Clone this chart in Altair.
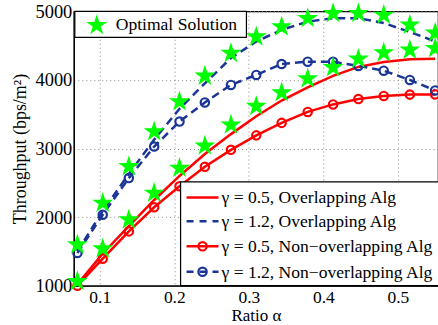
import altair as alt
import pandas as pd

alpha = [0.070, 0.104, 0.139, 0.173, 0.207, 0.241, 0.276, 0.310, 0.344, 0.379, 0.413, 0.447, 0.481, 0.516, 0.550]
opt_g05 = [1064, 1540, 1962, 2351, 2715, 3039, 3345, 3617, 3815, 4017, 4182, 4306, 4396, 4437, 4461]
opt_g12 = [1598, 2205, 2738, 3247, 3684, 4058, 4389, 4630, 4776, 4898, 4971, 4971, 4946, 4801, 4684]
ovl_g05 = [1020, 1470, 1870, 2250, 2600, 2920, 3210, 3470, 3700, 3890, 4060, 4190, 4260, 4300, 4310]
ovl_g12 = [1500, 2090, 2630, 3130, 3580, 3950, 4320, 4560, 4730, 4850, 4900, 4900, 4830, 4700, 4560]
non_g05 = [1000, 1394, 1792, 2144, 2450, 2734, 2981, 3192, 3374, 3534, 3643, 3721, 3767, 3786, 3789]
non_g12 = [1477, 2035, 2569, 3029, 3393, 3672, 3927, 4073, 4233, 4266, 4266, 4204, 4135, 4000, 3847]

legend_labels = ["γ = 0.5, Overlapping Alg", "γ = 1.2, Overlapping Alg",
                 "γ = 0.5, Non−overlapping Alg", "γ = 1.2, Non−overlapping Alg"]
x_ticks = [0.1, 0.2, 0.3, 0.4, 0.5]
y_ticks = [1000, 2000, 3000, 4000, 5000]

FONT = "Liberation Serif"
RED = "#ff0000"
BLUE = "#1a3596"
GREEN = "#00ff00"
STAR = ("M0,-1L0.2245,-0.309L0.9511,-0.309L0.3633,0.118L0.5878,0.809L0,0.382"
        "L-0.5878,0.809L-0.3633,0.118L-0.9511,-0.309L-0.2245,-0.309Z")
STAR_SIZE = 490
LEG_FS = 17.6

def frame(vals):
    return pd.DataFrame({"alpha": alpha, "v": vals})

xs = alt.Scale(domain=[0.0652, 0.5538], nice=False, zero=False)
ys = alt.Scale(domain=[1000, 5000], nice=False, zero=False)

X = alt.X("alpha:Q", scale=xs,
          axis=alt.Axis(values=x_ticks, title="Ratio α", format=".1f",
                        labelFontSize=17.5, labelPadding=3,
                        titleFontSize=17, titleY=35, titleBaseline="alphabetic"))
Y = alt.Y("v:Q", scale=ys,
          axis=alt.Axis(values=y_ticks, title="Throughput (bps/m²)", format="d",
                        labelPadding=2, titlePadding=5))

def line(vals, color, dash=None):
    kw = dict(color=color, strokeWidth=2.5)
    if dash:
        kw["strokeDash"] = dash
    return alt.Chart(frame(vals)).mark_line(**kw).encode(x=X, y=Y)

def circles(vals, color):
    return alt.Chart(frame(vals)).mark_point(shape="circle", filled=False, color=color,
                                             strokeWidth=2.2, size=70, opacity=1).encode(x=X, y=Y)

def stars(vals):
    return alt.Chart(frame(vals)).mark_point(shape=STAR, filled=True, color=GREEN,
                                             size=STAR_SIZE, opacity=1).encode(x=X, y=Y)

layers = [
    line(ovl_g05, RED),
    line(ovl_g12, BLUE, [8, 5]),
    line(non_g05, RED),
    line(non_g12, BLUE, [8, 5]),
    circles(non_g05, RED),
    circles(non_g12, BLUE),
    stars(opt_g05),
    stars(opt_g12),
]

one = pd.DataFrame({"a": [0]})

def vrect(x1, x2, y1, y2):
    return alt.Chart(one).mark_rect(fill="white", stroke="black", strokeWidth=1.2).encode(
        x=alt.value(x1), x2=alt.value(x2), y=alt.value(y1), y2=alt.value(y2))

def vtext(t, x, y):
    return alt.Chart(pd.DataFrame({"t": [t]})).mark_text(
        align="left", baseline="middle", font=FONT, fontSize=LEG_FS, color="black").encode(
        x=alt.value(x), y=alt.value(y), text="t:N")

def vrule(x1, x2, y, color, dash=None):
    kw = dict(color=color, strokeWidth=2.5)
    if dash:
        kw["strokeDash"] = dash
    return alt.Chart(one).mark_rule(**kw).encode(
        x=alt.value(x1), x2=alt.value(x2), y=alt.value(y))

def vpoint(x, y, shape, color, filled, size, sw=2.2):
    return alt.Chart(one).mark_point(shape=shape, filled=filled, color=color,
                                     size=size, opacity=1, strokeWidth=sw).encode(
        x=alt.value(x), y=alt.value(y))

# Legend positions (plot coordinates: origin at plot top-left = page (74, 11))
OX, OY = 74, 11
legend_layers = [
    vrect(75 - OX, 247 - OX, 11 - OY, 37 - OY),
    vpoint(97 - OX, 25 - OY, STAR, GREEN, True, STAR_SIZE, 0),
    vtext("Optimal Solution", 116 - OX, 25 - OY),
    vrect(181 - OX, 445 - OX, 182 - OY, 286 - OY),
]
row_y = [197.5, 221.5, 246.5, 272]
styles = [(RED, None, False), (BLUE, [7, 6], False), (RED, None, True), (BLUE, [7, 6], True)]
for lab, ry, (col, dash, circ) in zip(legend_labels, row_y, styles):
    legend_layers.append(vrule(187 - OX, 219 - OX, ry - OY, col, dash))
    if circ:
        legend_layers.append(vpoint(203 - OX, ry - OY, "circle", col, False, 70))
    legend_layers.append(vtext(lab, 222 - OX, ry + 1 - OY))

chart = alt.layer(*layers, *legend_layers).properties(
    width=365, height=275,
    autosize=alt.AutoSizeParams(type="none"),
    padding={"left": 74, "top": 11, "right": 0, "bottom": 39},
).configure_view(
    stroke="black", strokeWidth=1.2
).configure_axis(
    labelFont=FONT, labelFontSize=18.5, labelColor="black",
    titleFont=FONT, titleFontSize=18, titleColor="black", titleFontWeight="normal",
    domainColor="black", domainWidth=1.2,
    grid=True, gridColor="#8a8a8a", gridDash=[1, 3], gridWidth=1, gridOpacity=1,
    ticks=False,
)

chart.save("out.html", embed_options={"renderer": "svg", "actions": False})
